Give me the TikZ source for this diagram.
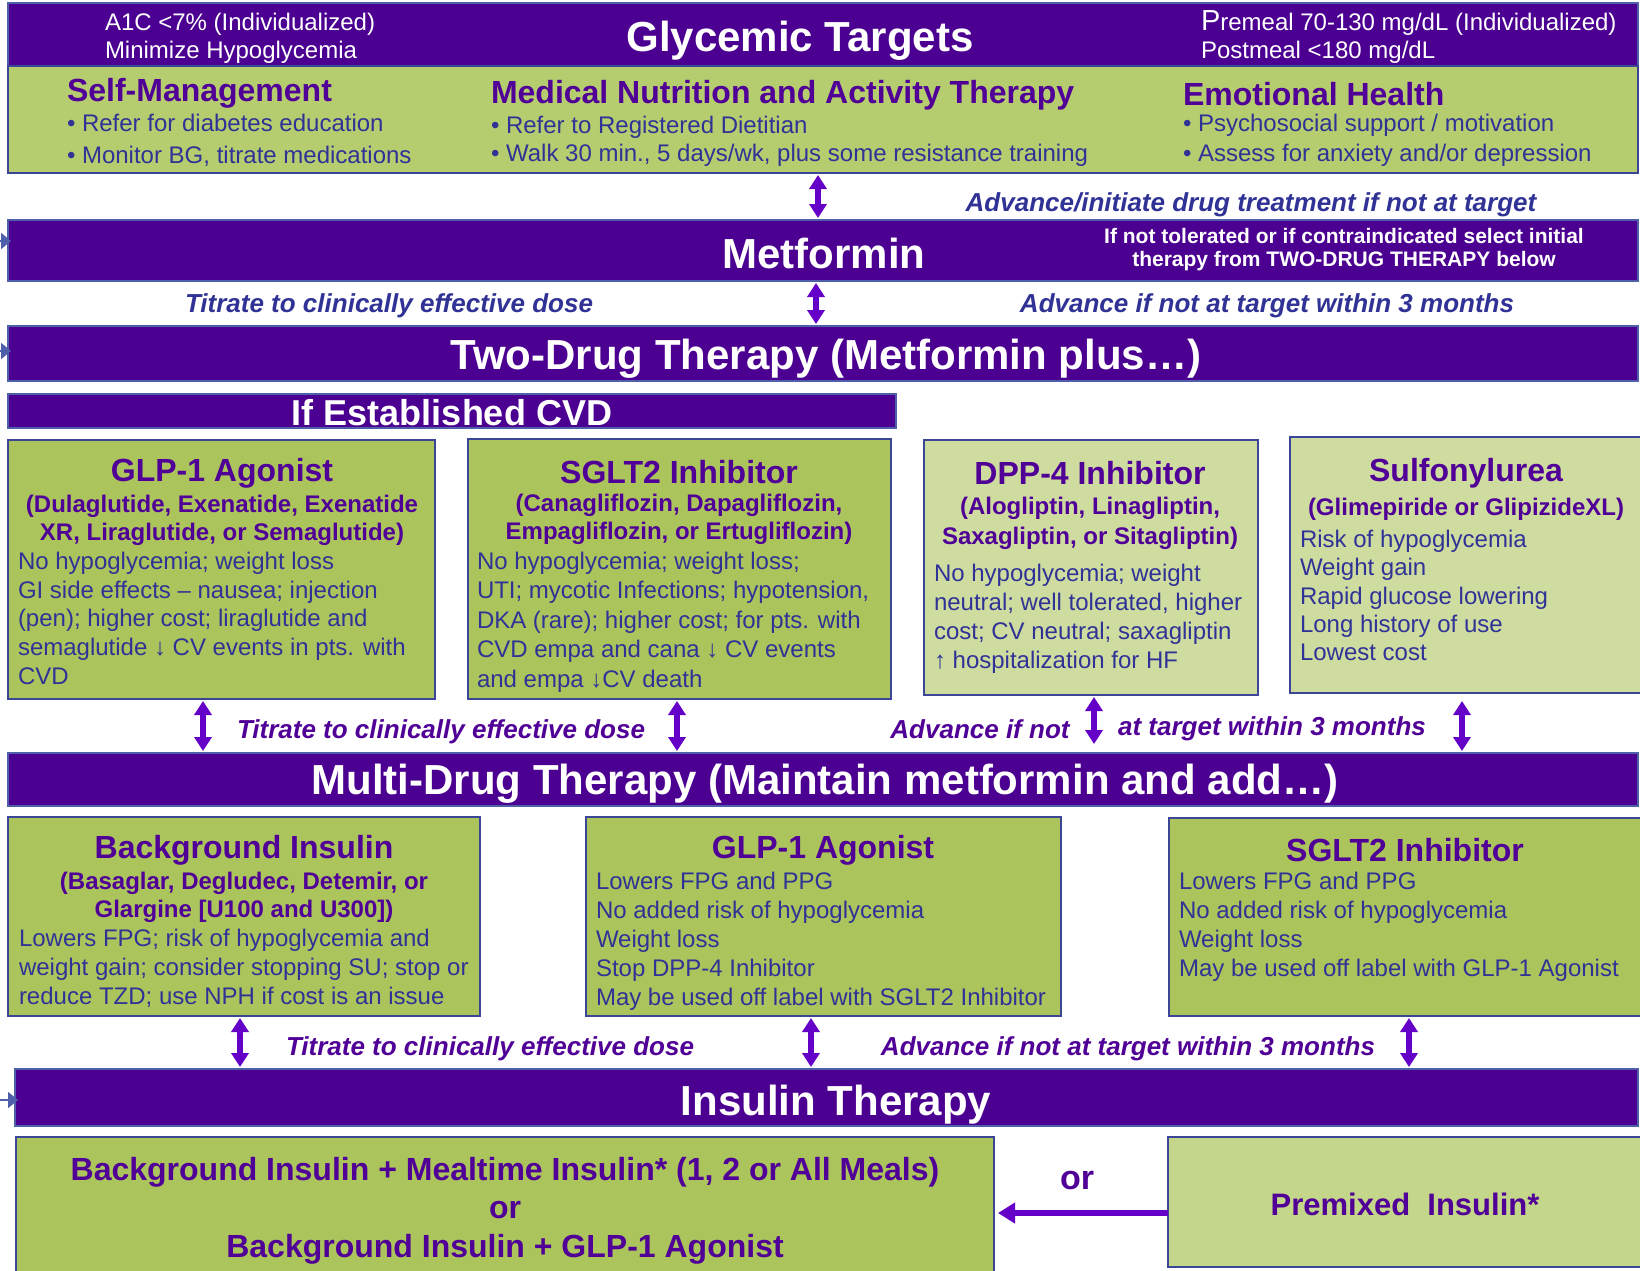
\documentclass[tikz,border=0pt]{standalone}
\usepackage{fontspec}
\setmainfont{Liberation Sans}
\usetikzlibrary{arrows.meta}
\definecolor{barpurple}{RGB}{75,0,145}
\definecolor{barline}{RGB}{80,95,170}
\definecolor{gdark}{RGB}{171,197,92}
\definecolor{gtop}{RGB}{181,205,111}
\definecolor{glight}{RGB}{206,220,160}
\definecolor{gprem}{RGB}{195,214,138}
\definecolor{boxline}{RGB}{60,70,150}
\definecolor{tpurple}{RGB}{80,0,150}
\definecolor{tblue}{RGB}{48,50,150}
\definecolor{arrowc}{RGB}{100,0,200}
\newcommand{\fs}[2]{\fontsize{#1}{#2}\selectfont}
\begin{document}
\begin{tikzpicture}[x=1pt,y=-1pt,
  every node/.style={inner sep=0pt, outer sep=0pt},
  bar/.style={draw=barline, line width=1.5pt, fill=barpurple, anchor=north west},
  gbx/.style={draw=boxline, line width=1.5pt, fill=#1, anchor=north west},
  bartext/.style={text=white, font=\bfseries\fs{42}{44}},
  ttl/.style={text=tpurple, font=\bfseries\fs{32}{34}},
  sub/.style={text=tpurple, font=\bfseries\fs{24}{28}, align=center, anchor=north},
  body/.style={text=tblue, font=\fs{24}{28.7}, align=left, anchor=north west},
  wtext/.style={text=white, font=\fs{24}{28}, align=left, anchor=north west},
  note/.style={text=tblue, font=\bfseries\itshape\fs{26}{28}},
  pnote/.style={text=tpurple, font=\bfseries\itshape\fs{26}{28}},
  dbl/.style={draw=arrowc, line width=6pt, {Triangle[width=17pt,length=14pt]}-{Triangle[width=17pt,length=14pt]}, shorten <=2pt, shorten >=2pt},
  edgetip/.style={draw=barline, line width=2pt, -{Triangle[width=16pt,length=10pt]}, shorten >=-3pt},
]
\useasboundingbox[fill=white] (0,0) rectangle (1640,1270);

% ---------- Glycemic targets ----------
\node[bar, minimum width=1630pt, minimum height=63pt] (gt) at (8,3) {};
\node[gbx=gtop, minimum width=1630pt, minimum height=107pt] (self) at (8,66) {};
\node[bartext] (gttl) at (800,41) {Glycemic Targets};
\node[wtext] (a1c) at (105,13) {A1C <7\% (Individualized)\\Minimize Hypoglycemia};
\node[wtext] (pre) at (1201,11) {{\fs{29}{29}P}remeal 70-130 mg/dL (Individualized)\\Postmeal <180 mg/dL};

\node[ttl, anchor=west] (smt) at (67,93) {Self-Management};
\node[body, font=\fs{24}{32}] (smb) at (67,114) {• Refer for diabetes education\\• Monitor BG, titrate medications};
\node[ttl, anchor=west] (mnt) at (491,95) {Medical Nutrition and Activity Therapy};
\node[body, font=\fs{24}{28}] (mnb) at (491,116) {• Refer to Registered Dietitian\\• Walk 30 min., 5 days/wk, plus some resistance training};
\node[ttl, anchor=west] (eht) at (1183,94) {Emotional Health};
\node[body, font=\fs{24}{30}] (ehb) at (1183,114) {• Psychosocial support / motivation\\• Assess for anxiety and/or depression};

% ---------- Metformin ----------
\node[bar, minimum width=1630pt, minimum height=61pt] (metf) at (8,220) {};
\node[bartext] (metft) at (824,253) {Metformin};
\node[text=white, font=\bfseries\fs{21}{23}, align=center] (metfn) at (1344,250) {If not tolerated or if contraindicated select initial\\therapy from TWO-DRUG THERAPY below};
\draw[dbl] (self.south -| 818,0) -- (metf.north -| 818,0);
\node[note] (adv0) at (1251,205) {Advance/initiate drug treatment if not at target};

\node[note] (tit1) at (389,306) {Titrate to clinically effective dose};
\node[note] (adv1) at (1267,306) {Advance if not at target within 3 months};

% ---------- Two-drug ----------
\node[bar, minimum width=1630pt, minimum height=55pt] (twod) at (8,326) {};
\node[bartext] (twodt) at (826,359) {Two-Drug Therapy (Metformin plus…)};
\draw[dbl] (metf.south -| 816,0) -- (twod.north -| 816,0);

\node[bar, minimum width=888pt, minimum height=34pt] (cvd) at (8,394) {};
\node[text=white, font=\bfseries\fs{36}{38}] (cvdt) at (452,413) {If Established CVD};

% left-edge arrow tips
\coordinate (lm) at (-30,241);
\coordinate (lt) at (-30,351);
\coordinate (li) at (-30,1100);
\draw[edgetip] (lm) -- (metf.west |- lm);
\draw[edgetip] (lt) -- (twod.west |- lt);

% ---------- four boxes ----------
\node[gbx=gdark, minimum width=427pt, minimum height=259pt] (glpa) at (8,440) {};
\node[ttl] (glpat) at (222,473) {GLP-1 Agonist};
\node[sub] (glpas) at (222,495) {(Dulaglutide, Exenatide, Exenatide\\XR, Liraglutide, or Semaglutide)};
\node[body] (glpab) at (18,552) {No hypoglycemia; weight loss\\GI side effects – nausea; injection\\(pen); higher cost; liraglutide and\\semaglutide ↓ CV events in pts. with\\CVD};

\node[gbx=gdark, minimum width=423pt, minimum height=260pt] (sgla) at (468,439) {};
\node[ttl] (sglat) at (679,472) {SGLT2 Inhibitor};
\node[sub] (sglas) at (679,494) {(Canagliflozin, Dapagliflozin,\\Empagliflozin, or Ertugliflozin)};
\node[body, font=\fs{24}{29.5}] (sglab) at (477,552) {No hypoglycemia; weight loss;\\UTI; mycotic Infections; hypotension,\\DKA (rare); higher cost; for pts. with\\CVD empa and cana ↓ CV events\\and empa ↓CV death};

\node[gbx=glight, minimum width=334pt, minimum height=255pt] (dpp) at (924,440) {};
\node[ttl] (dppt) at (1090,473) {DPP-4 Inhibitor};
\node[sub, font=\bfseries\fs{24}{30}] (dpps) at (1090,497) {(Alogliptin, Linagliptin,\\Saxagliptin, or Sitagliptin)};
\node[body, font=\fs{24}{29}] (dppb) at (934,564) {No hypoglycemia; weight\\neutral; well tolerated, higher\\cost; CV neutral; saxagliptin\\↑ hospitalization for HF};

\node[gbx=glight, minimum width=360pt, minimum height=256pt] (su) at (1290,437) {};
\node[ttl] (sut) at (1466,473) {Sulfonylurea};
\node[sub] (sus) at (1466,498) {(Glimepiride or GlipizideXL)};
\node[body, font=\fs{24}{28.3}] (sub) at (1300,530) {Risk of hypoglycemia\\Weight gain\\Rapid glucose lowering\\Long history of use\\Lowest cost};

% ---------- Multi-drug ----------
\node[bar, minimum width=1630pt, minimum height=53pt] (multi) at (8,753) {};
\node[bartext] (multit) at (825,784) {Multi-Drug Therapy (Maintain metformin and add…)};

\draw[dbl] (glpa.south -| 203,0) -- (multi.north -| 203,0);
\node[pnote] (tit2) at (441,732) {Titrate to clinically effective dose};
\draw[dbl] (sgla.south -| 677,0) -- (multi.north -| 677,0);
\node[pnote] (adv2a) at (980,729) {Advance if not};
\draw[dbl] (dpp.south -| 1094,0) -- ([yshift=7pt]multi.north -| 1094,0);
\node[pnote] (adv2b) at (1272,729) {at target within 3 months};
\draw[dbl] ([yshift=-6pt]su.south -| 1462,0) -- (multi.north -| 1462,0);

% ---------- three boxes ----------
\node[gbx=gdark, minimum width=472pt, minimum height=199pt] (bgi) at (8,817) {};
\node[ttl] (bgit) at (244,850) {Background Insulin};
\node[sub] (bgis) at (244,872) {(Basaglar, Degludec, Detemir, or\\Glargine [U100 and U300])};
\node[body, font=\fs{24}{29}] (bgib) at (19,929) {Lowers FPG; risk of hypoglycemia and\\weight gain; consider stopping SU; stop or\\reduce TZD; use NPH if cost is an issue};

\node[gbx=gdark, minimum width=475pt, minimum height=199pt] (glpb) at (586,817) {};
\node[ttl] (glpbt) at (823,850) {GLP-1 Agonist};
\node[body, font=\fs{24}{29}] (glpbb) at (596,872) {Lowers FPG and PPG\\No added risk of hypoglycemia\\Weight loss\\Stop DPP-4 Inhibitor\\May be used off label with SGLT2 Inhibitor};

\node[gbx=gdark, minimum width=480pt, minimum height=198pt] (sglb) at (1169,818) {};
\node[ttl] (sglbt) at (1405,850) {SGLT2 Inhibitor};
\node[body, font=\fs{24}{29}] (sglbb) at (1179,872) {Lowers FPG and PPG\\No added risk of hypoglycemia\\Weight loss\\May be used off label with GLP-1 Agonist};

% ---------- Insulin ----------
\node[bar, minimum width=1623pt, minimum height=57pt] (ins) at (15,1069) {};
\node[bartext] (inst) at (836,1105) {Insulin Therapy};
\draw[edgetip] (li) -- (ins.west |- li);

\draw[dbl] (bgi.south -| 240,0) -- (ins.north -| 240,0);
\node[pnote] (tit3) at (490,1049) {Titrate to clinically effective dose};
\draw[dbl] (glpb.south -| 811,0) -- (ins.north -| 811,0);
\node[pnote] (adv3) at (1128,1049) {Advance if not at target within 3 months};
\draw[dbl] (sglb.south -| 1409,0) -- (ins.north -| 1409,0);

% ---------- final boxes ----------
\node[gbx=gdark, minimum width=978pt, minimum height=150pt] (fin) at (16,1137) {};
\node[text=tpurple, font=\bfseries\fs{32}{38.5}, align=center, anchor=north] (fint) at (505,1157) {Background Insulin + Mealtime Insulin* (1, 2 or All Meals)\\or\\Background Insulin + GLP-1 Agonist};
\node[gbx=gprem, minimum width=480pt, minimum height=130pt] (prem) at (1168,1137) {};
\node[text=tpurple, font=\bfseries\fs{31}{33}] (premt) at (1405,1204) {Premixed\ \ Insulin*};
\node[text=tpurple, font=\bfseries\fs{34}{36}] (ort) at (1077,1180) {or};
\draw[draw=arrowc, line width=6pt, -{Triangle[width=20pt,length=17pt]}, shorten >=4pt] (prem.west |- 0,1213) -- (fin.east |- 0,1213);
\end{tikzpicture}
\end{document}
